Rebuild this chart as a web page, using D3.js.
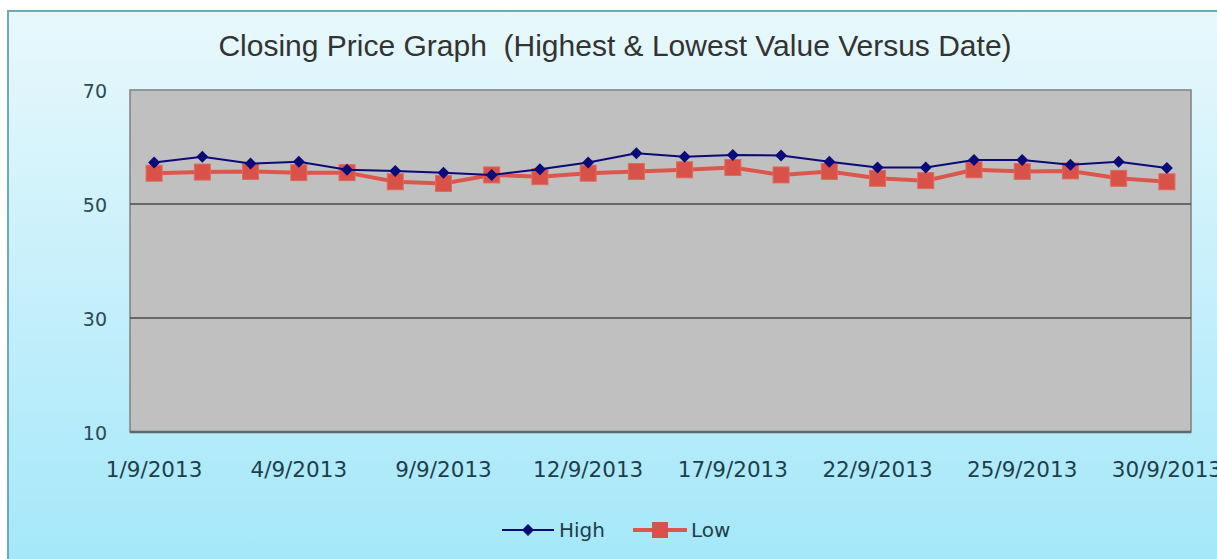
<!DOCTYPE html>
<html>
<head>
<meta charset="utf-8">
<script src="https://cdn.jsdelivr.net/npm/d3@7"></script>
<style>
  html, body { margin: 0; padding: 0; background: #fff; }
  svg { display: block; }
</style>
</head>
<body>
<div class="chart"></div>
<script>
// trading days, September 2013
const dates = [
  "1/9/2013", "2/9/2013", "3/9/2013", "4/9/2013", "5/9/2013", "8/9/2013",
  "9/9/2013", "10/9/2013", "11/9/2013", "12/9/2013", "15/9/2013", "16/9/2013",
  "17/9/2013", "18/9/2013", "19/9/2013", "22/9/2013", "23/9/2013", "24/9/2013",
  "25/9/2013", "26/9/2013", "29/9/2013", "30/9/2013",
];
const highValues = [
  57.3, 58.3, 57.1, 57.4, 56.0, 55.8, 55.5, 55.1, 56.1, 57.3, 58.9,
  58.3, 58.6, 58.5, 57.4, 56.4, 56.4, 57.7, 57.7, 56.9, 57.4, 56.3,
];
const lowValues = [
  55.4, 55.6, 55.7, 55.5, 55.5, 53.9, 53.6, 55.1, 54.8, 55.4, 55.7,
  56.0, 56.4, 55.1, 55.7, 54.5, 54.1, 56.0, 55.7, 55.8, 54.5, 53.9,
];
const yTicks = [10, 30, 50, 70];
const xTickLabels = [
  "1/9/2013", "4/9/2013", "9/9/2013", "12/9/2013",
  "17/9/2013", "22/9/2013", "25/9/2013", "30/9/2013",
];
const seriesNames = ["High", "Low"];

const width = 1217, height = 559;
const plot = { left: 130, right: 1191, top: 90, bottom: 432 };
const navy = "#0a0a78", red = "#dc564c";

const svg = d3.select(".chart").append("svg")
  .attr("width", width)
  .attr("height", height);

// background gradient of the chart frame
const grad = svg.append("defs").append("linearGradient")
  .attr("id", "bg").attr("x1", 0).attr("y1", 0).attr("x2", 0).attr("y2", 1);
grad.append("stop").attr("offset", "0%").attr("stop-color", "#e8f8fc");
grad.append("stop").attr("offset", "100%").attr("stop-color", "#a2e7f9");

svg.append("rect")
  .attr("x", 8).attr("y", 11)
  .attr("width", width + 10).attr("height", height + 10)
  .attr("fill", "url(#bg)")
  .attr("stroke", "#6ea9b9")
  .attr("stroke-width", 2);

svg.append("text")
  .attr("x", 615).attr("y", 56)
  .attr("text-anchor", "middle")
  .style("font-family", "'Liberation Sans', Arial, sans-serif")
  .style("font-size", "30px")
  .style("fill", "#333")
  .style("white-space", "pre")
  .text("Closing Price Graph  (Highest & Lowest Value Versus Date)");

const x = d3.scaleBand().domain(dates).range([plot.left, plot.right]);
const y = d3.scaleLinear().domain([10, 70]).range([plot.bottom, plot.top]);
const cx = (d) => x(d) + x.bandwidth() / 2;

// plot area
svg.append("rect")
  .attr("x", plot.left).attr("y", plot.top)
  .attr("width", plot.right - plot.left)
  .attr("height", plot.bottom - plot.top)
  .attr("fill", "#c0c0c0")
  .attr("stroke", "#808080")
  .attr("stroke-width", 1.5);

svg.append("g")
  .selectAll("line")
  .data(yTicks.filter((t) => t > 10 && t < 70))
  .join("line")
  .attr("x1", plot.left).attr("x2", plot.right)
  .attr("y1", (d) => y(d)).attr("y2", (d) => y(d))
  .attr("stroke", "#4a4a4a")
  .attr("stroke-width", 1.5);

svg.append("line")
  .attr("x1", plot.left).attr("x2", plot.right)
  .attr("y1", plot.bottom).attr("y2", plot.bottom)
  .attr("stroke", "#5a6a6e")
  .attr("stroke-width", 2.5);

// y axis labels
const yAxis = svg.append("g")
  .attr("transform", `translate(${plot.left},0)`)
  .call(d3.axisLeft(y).tickValues(yTicks).tickSize(0).tickPadding(23));
yAxis.select(".domain").remove();
yAxis.selectAll("text")
  .attr("dy", "0.4em")
  .style("font-family", "'DejaVu Sans', Verdana, sans-serif")
  .style("font-size", "19px")
  .style("fill", "#2b4a58");

// x axis labels
const xAxis = svg.append("g")
  .attr("transform", `translate(0,${plot.bottom})`)
  .call(d3.axisBottom(x).tickValues(xTickLabels).tickSize(0).tickPadding(30));
xAxis.select(".domain").remove();
xAxis.selectAll("text")
  .style("font-family", "'DejaVu Sans', Verdana, sans-serif")
  .style("font-size", "21.5px")
  .style("fill", "#1f3e4c");

// Low series
const lowLine = d3.line().x((d, i) => cx(dates[i])).y((d) => y(d));
svg.append("path")
  .datum(lowValues)
  .attr("d", lowLine)
  .attr("fill", "none")
  .attr("stroke", red)
  .attr("stroke-width", 4);
svg.append("g")
  .selectAll("rect")
  .data(lowValues)
  .join("rect")
  .attr("x", (d, i) => cx(dates[i]) - 8)
  .attr("y", (d) => y(d) - 8)
  .attr("width", 16).attr("height", 16)
  .attr("fill", "#d9524a")
  .attr("stroke", "#e06a5c")
  .attr("stroke-width", 1);

// High series
const highLine = d3.line().x((d, i) => cx(dates[i])).y((d) => y(d));
svg.append("path")
  .datum(highValues)
  .attr("d", highLine)
  .attr("fill", "none")
  .attr("stroke", navy)
  .attr("stroke-width", 2);
const diamond = d3.symbol().type(d3.symbolSquare).size(72);
svg.append("g")
  .selectAll("path")
  .data(highValues)
  .join("path")
  .attr("d", diamond)
  .attr("transform", (d, i) => `translate(${cx(dates[i])},${y(d)}) rotate(45)`)
  .attr("fill", navy);

// legend
const legend = svg.append("g").attr("transform", "translate(502,530)");
const items = legend.selectAll("g")
  .data(seriesNames)
  .join("g")
  .attr("transform", (d, i) => `translate(${i * 131},0)`);
items.append("line")
  .attr("x1", 0).attr("x2", (d, i) => (i === 0 ? 52 : 54))
  .attr("stroke", (d, i) => (i === 0 ? navy : red))
  .attr("stroke-width", (d, i) => (i === 0 ? 2 : 4));
items.filter((d, i) => i === 0).append("path")
  .attr("d", diamond)
  .attr("transform", "translate(26,0) rotate(45)")
  .attr("fill", navy);
items.filter((d, i) => i === 1).append("rect")
  .attr("x", 19).attr("y", -8)
  .attr("width", 16).attr("height", 16)
  .attr("fill", "#d9524a");
items.append("text")
  .attr("x", (d, i) => (i === 0 ? 57 : 58))
  .attr("y", 7)
  .style("font-family", "'DejaVu Sans', Verdana, sans-serif")
  .style("font-size", "20px")
  .style("fill", "#1f3e4c")
  .text((d) => d);
</script>
</body>
</html>
